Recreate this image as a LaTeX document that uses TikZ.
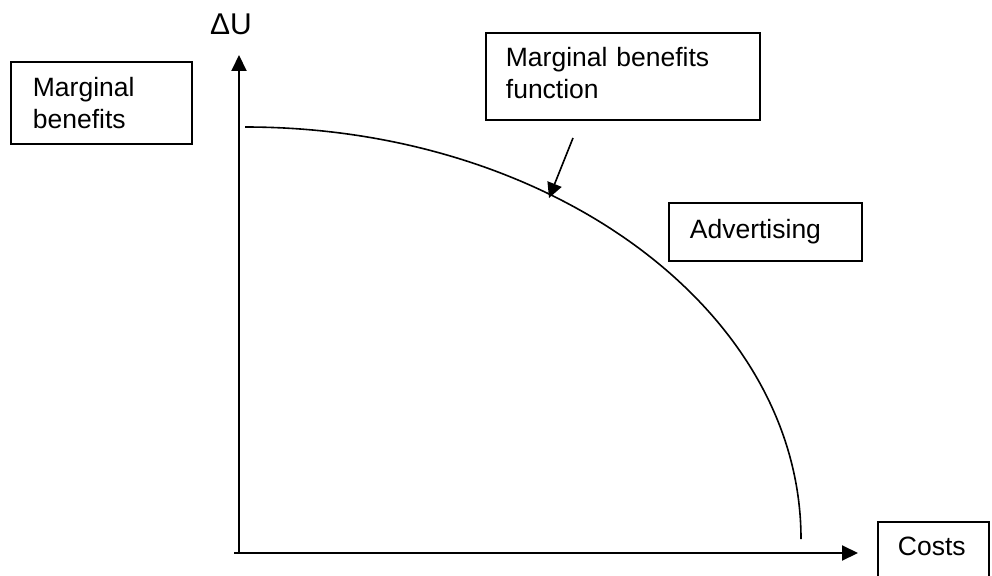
\documentclass[tikz,border=0pt]{standalone}
\usepackage{fontspec}
\setmainfont{Liberation Sans}
\usetikzlibrary{arrows.meta}
\tikzset{
  lbl/.style={draw=black, line width=1.8pt, anchor=north west, inner ysep=0pt, align=left,
    font=\fontsize{26.5}{32}\selectfont},
  axis/.style={line width=2pt, -{Triangle[length=16pt,width=15pt]}},
  curve/.style={line width=1.6pt},
  pointer/.style={line width=1.6pt, -{Triangle[length=15pt,width=15pt]}}
}
\begin{document}
\begin{tikzpicture}[x=1pt,y=-1pt]
\useasboundingbox (0,0) rectangle (992,575);
\clip (0,0) rectangle (992,575);
% boxes
\node[lbl, inner xsep=22pt, text width=137pt, text height=35pt, text depth=47pt] (mb) at (10,61) {Marginal\\benefits};
\node[lbl, inner xsep=20pt, text width=234pt, text height=34pt, text depth=53pt] (mbf) at (485,32) {Marginal benefits\\function};
\node[lbl, inner xsep=21pt, text width=151pt, text height=36pt, text depth=22pt] (adv) at (668,202) {Advertising};
\node[lbl, inner xsep=20pt, text width=71pt, text height=34pt, text depth=60pt] (cost) at (877,521) {Costs};
% axis label
\node[anchor=base west, inner sep=0pt, font=\fontsize{30}{36}\selectfont] (du) at (210,35) {ΔU};
% axes
\coordinate (O) at (239,553);
\coordinate (ytip) at (239,55);
\coordinate (xstart) at (234,553);
\coordinate (xtip) at (858,553);
\draw[axis] (O) -- (ytip);
\draw[axis] (xstart) -- (xtip);
% curve
\coordinate (c0) at (245,127);
\draw[curve] (c0) arc[start angle=90, end angle=0, x radius=556pt, y radius=412pt] coordinate (c1);
% pointer
\coordinate (p0) at (573,138);
\coordinate (p1) at (549,198);
\draw[pointer] (p0) -- (p1);
\end{tikzpicture}
\end{document}
